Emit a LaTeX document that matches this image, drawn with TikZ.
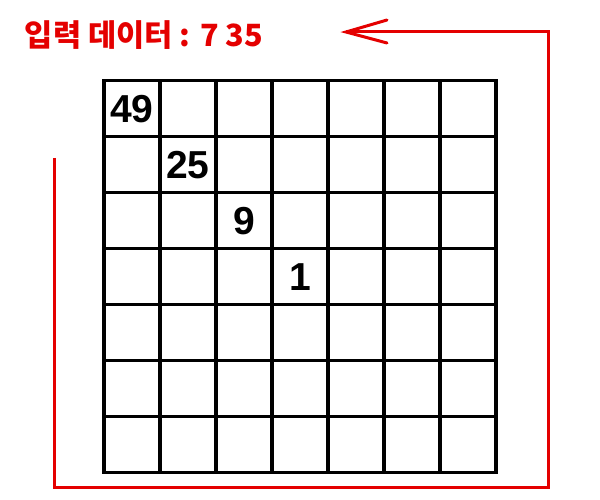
\documentclass[tikz,border=0pt]{standalone}
\usepackage{fontspec}
\usepackage{graphicx}
\setmainfont{Liberation Sans}
\newfontfamily\krfont{Noto Sans CJK KR}
\definecolor{lred}{RGB}{228,0,0}
\begin{document}
\begin{tikzpicture}[x=1pt,y=-1pt,
  gridline/.style={line width=3.2pt,black},
  redline/.style={line width=3pt,lred,line join=miter},
  num/.style={font=\fontsize{39}{39}\bfseries\selectfont,inner sep=0pt,anchor=center},
  lbl/.style={font=\krfont\bfseries\fontsize{27}{27}\selectfont,text=lred,inner sep=0pt}]
\useasboundingbox (0,0) rectangle (600,500);
% grid
\foreach \i in {0,...,7}{
  \draw[gridline] (104+56*\i,80.5) -- (104+56*\i,472.5);
  \draw[gridline] (102.4,80.5+56*\i) -- (497.6,80.5+56*\i);
}
\node[num] (n49) at (132,109) {49};
\node[num] (n25) at (188,165) {25};
\node[num] (n9) at (244,221) {9};
\node[num] (n1) at (300,277) {1};
% label
\node[lbl] (label) at (144,35) {\resizebox{238pt}{!}{입력 데이터 : 7 35}};
% red loop
\coordinate (start) at (54,158);
\coordinate (bl) at (54,487);
\coordinate (br) at (548,487);
\coordinate (tr) at (548,32);
\coordinate (tip) at (346,32);
\draw[redline] (start) -- (bl) -- (br) -- (tr) -- (tip);
\draw[redline,line cap=round] ([shift={(41,-12)}]tip) -- (tip) -- ([shift={(41,11)}]tip);
\end{tikzpicture}
\end{document}
